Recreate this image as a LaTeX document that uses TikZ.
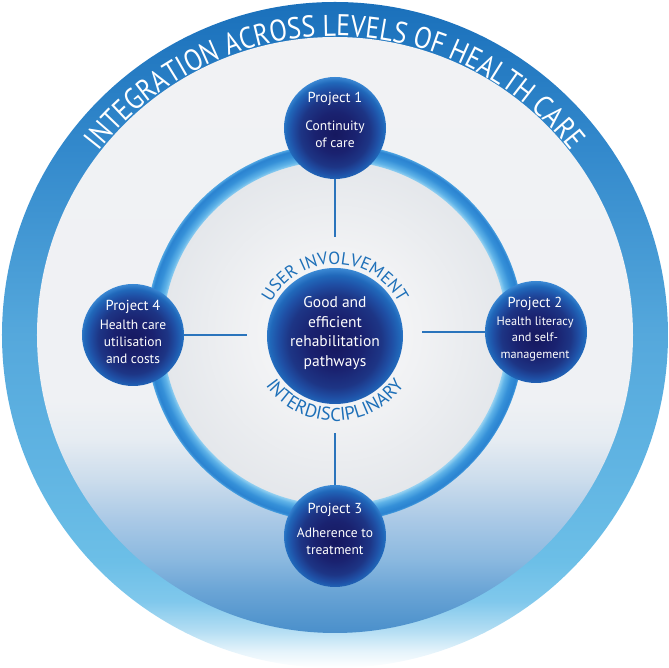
\documentclass[tikz,border=0pt]{standalone}
\usepackage{fontspec}
\setmainfont{PT Sans}
\newfontfamily\titlefont[FakeStretch=0.86]{PT Sans}
\usetikzlibrary{decorations.text,calc}
% outer disk colours
\definecolor{o1}{HTML}{E4F3FB}
\definecolor{o2}{HTML}{B4DEF3}
\definecolor{o3}{HTML}{80C8EC}
\definecolor{o4}{HTML}{6CBFE7}
\definecolor{o5}{HTML}{5FB3E2}
\definecolor{o6}{HTML}{55A8DC}
\definecolor{o7}{HTML}{3389CC}
\definecolor{o8}{HTML}{1A70BB}
% inner disk colours
\definecolor{i0}{HTML}{4A8FCB}
\definecolor{i1}{HTML}{5798CF}
\definecolor{i2}{HTML}{6BA5D6}
\definecolor{i3}{HTML}{8AB8DF}
\definecolor{i4}{HTML}{AAC9E6}
\definecolor{i5}{HTML}{CBDCEC}
\definecolor{i6}{HTML}{E6ECF2}
\definecolor{i7}{HTML}{EFF1F4}
\definecolor{i8}{HTML}{F1F2F4}
% ring colours
\definecolor{r0}{HTML}{9AD4F2}
\definecolor{r1}{HTML}{5FB3E8}
\definecolor{r2}{HTML}{3590D8}
\definecolor{r3}{HTML}{2A82D0}
\definecolor{r4}{HTML}{4EA5E2}
% project circle colours
\definecolor{p0}{HTML}{16185F}
\definecolor{p1}{HTML}{1A2270}
\definecolor{p2}{HTML}{1D3585}
\definecolor{p3}{HTML}{1F4FA5}
\definecolor{p4}{HTML}{2068BA}
\definecolor{p5}{HTML}{3C8AD5}
% centre disk
\definecolor{c0}{HTML}{FAFAFA}
\definecolor{c1}{HTML}{F1F2F4}
\definecolor{c2}{HTML}{E4E7EB}
\definecolor{linkblue}{HTML}{2A74BC}
\definecolor{arctext}{HTML}{1D6FB8}

\pgfdeclareverticalshading{outershade}{100bp}{color(0bp)=(white); color(25bp)=(white); color(26.3bp)=(o1); color(27.8bp)=(o2); color(30bp)=(o3); color(33bp)=(o4); color(41bp)=(o5); color(50bp)=(o6); color(64bp)=(o7); color(75bp)=(o8); color(100bp)=(o8)}
\pgfdeclareverticalshading{innershade}{100bp}{color(0bp)=(i0); color(25bp)=(i0); color(26.5bp)=(i1); color(28.6bp)=(i2); color(31.1bp)=(i3); color(34.5bp)=(i4); color(37.8bp)=(i5); color(41.2bp)=(i6); color(44.5bp)=(i7); color(75bp)=(i8); color(100bp)=(i8)}
\pgfdeclareradialshading{ringshade}{\pgfpoint{0bp}{0bp}}{color(0bp)=(r0); color(22.7bp)=(r0); color(23.2bp)=(r1); color(24bp)=(r2); color(24.7bp)=(r3); color(25bp)=(r4); color(50bp)=(r4)}
\pgfdeclareradialshading{projshade}{\pgfpoint{0bp}{-3bp}}{color(0bp)=(p0); color(10bp)=(p1); color(17bp)=(p2); color(21bp)=(p3); color(24bp)=(p4); color(26.5bp)=(p5); color(50bp)=(p5)}
\pgfdeclareradialshading{centreshade}{\pgfpoint{0bp}{0bp}}{color(0bp)=(c0); color(12bp)=(c1); color(25bp)=(c2); color(50bp)=(c2)}

\tikzset{
  proj/.style={circle, minimum size=102pt, inner sep=0pt, shade, shading=projshade},
  hub/.style={circle, minimum size=136pt, inner sep=0pt, shade, shading=projshade},
  ptext/.style={text=white, align=center, inner sep=0pt, font=\fontsize{13.5}{17}\selectfont},
  htext/.style={text=white, align=center, inner sep=0pt, font=\fontsize{15.5}{19.5}\selectfont},
  link/.style={draw=linkblue, line width=2pt},
}
\newcommand{\projlabel}[1]{{\fontsize{14.5}{16}\selectfont #1}}

\begin{document}
\begin{tikzpicture}[x=1pt,y=1pt]
\useasboundingbox (-335,-333) rectangle (334,335);
% backgrounds
\shade[shading=outershade] (0,0) circle[radius=333];
\shade[shading=innershade] (0,0) circle[radius=298];
\shade[shading=centreshade] (0,2) circle[radius=173];
\shade[shading=ringshade, even odd rule] (0,2) circle[radius=189] (0,2) circle[radius=172];

% outer curved title
\path[decorate, decoration={text along path, text align=center, text color=white,
  text={|\titlefont\fontsize{30}{30}\selectfont|INTEGRATION ACROSS LEVELS OF HEALTH CARE}}]
  (150:299) arc[start angle=150, end angle=30, radius=299];

% connector end points
\coordinate (t1) at (0,98);
\coordinate (t2) at (87,3);
\coordinate (t3) at (0,-98);
\coordinate (t4) at (-88,0);

% nodes
\node[hub] (hub) at (0,-1) {};
\node[proj] (p1) at (0,207) {};
\node[proj] (p2) at (201,3) {};
\node[proj] (p3) at (0,-201) {};
\node[proj] (p4) at (-202,0) {};

% connectors
\draw[link] (p1) -- (t1);
\draw[link] (p2) -- (t2);
\draw[link] (p3) -- (t3);
\draw[link] (p4) -- (t4);

% curved labels round the hub
\path[decorate, decoration={text along path, text align=center, text color=arctext,
  text={|\fontsize{17.5}{17.5}\selectfont|USER INVOLVEMENT}}]
  ($(0,-1)+(165:72)$) arc[start angle=165, end angle=15, radius=72];
\path[decorate, decoration={text along path, text align=center, text color=arctext,
  text={|\fontsize{18.5}{18.5}\selectfont|INTERDISCIPLINARY}}]
  ($(0,-1)+(200:85)$) arc[start angle=200, end angle=340, radius=85];

% texts
\node[htext] (hubt) at (0,2) {Good and\\efficient\\rehabilitation\\pathways};
\node[ptext] (p1t) at (0,215) {\projlabel{Project 1}\\[11.5pt]Continuity\\of care};
\node[ptext, font=\fontsize{12.3}{16.2}\selectfont] (p2t) at (200,6) {\projlabel{Project 2}\\[1.8pt]Health literacy\\and self-\\management};
\node[ptext] (p3t) at (0,-193.5) {\projlabel{Project 3}\\[7pt]Adherence to\\treatment};
\node[ptext] (p4t) at (-202,3) {\projlabel{Project 4}\\[2pt]Health care\\utilisation\\and costs};
\end{tikzpicture}
\end{document}
